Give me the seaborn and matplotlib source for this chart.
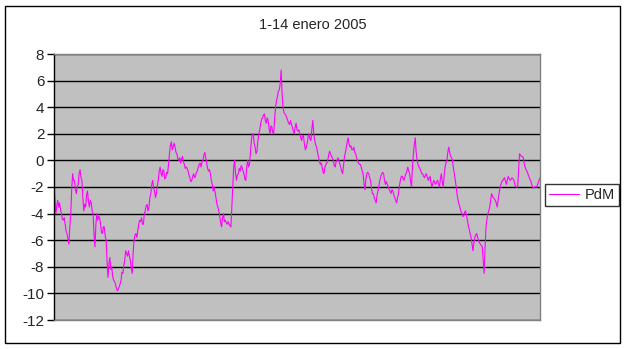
import pandas as pd
import seaborn as sns
import matplotlib.pyplot as plt
from matplotlib.patches import Rectangle

title = "1-14 enero 2005"
series_name = "PdM"
y_ticks = [-12, -10, -8, -6, -4, -2, 0, 2, 4, 6, 8]

# values, left to right
pdm = [
    -1.8, -2.9, -4.0, -3.4, -3.0, -3.5, -3.2, -3.7, -4.0, -4.4, -4.5, -4.3, -4.8, -5.3, -5.5, -5.9, -6.3, -5.0, -4.0, -2.2,
    -1.0, -1.5, -1.5, -2.2, -2.5, -2.0, -1.8, -1.0, -0.7, -1.3, -1.5, -2.8, -3.8, -3.3, -3.5, -2.6, -2.3, -3.1, -3.5, -3.0,
    -3.2, -3.8, -4.0, -5.6, -6.5, -4.8, -4.0, -4.5, -4.2, -4.3, -4.8, -5.4, -5.5, -5.0, -5.0, -5.7, -6.0, -7.6, -8.8, -7.8,
    -7.3, -8.2, -8.0, -8.7, -9.0, -9.1, -9.3, -9.6, -9.8, -9.7, -9.5, -9.3, -9.0, -8.4, -8.5, -7.9, -7.5, -6.8, -7.0, -7.2,
    -6.8, -7.2, -7.5, -8.1, -8.5, -7.0, -6.0, -5.6, -5.5, -5.8, -5.3, -4.8, -4.5, -4.6, -4.3, -4.8, -4.8, -4.0, -3.8, -3.4,
    -3.3, -3.8, -3.5, -2.8, -2.5, -1.8, -1.5, -2.1, -2.3, -2.8, -2.5, -1.9, -1.5, -0.8, -0.5, -1.0, -1.2, -0.7, -0.8, -1.4,
    -1.3, -0.9, -1.0, -0.3, 0.5, 1.1, 1.4, 0.8, 1.0, 1.3, 1.0, 0.6, 0.5, 0.1, 0.0, 0.2, -0.2, 0.1, 0.3, -0.1,
    -0.3, -0.6, -0.5, -0.6, -0.8, -1.1, -1.3, -1.6, -1.5, -1.2, -1.0, -1.3, -1.2, -0.9, -0.8, -0.5, -0.3, -0.2, -0.5, -0.1,
    0.0, 0.4, 0.6, 0.2, -0.2, -0.6, -0.8, -0.7, -1.0, -1.5, -1.8, -2.3, -2.0, -2.4, -2.8, -3.3, -3.5, -3.8, -4.2, -4.7,
    -5.0, -4.3, -4.0, -4.6, -4.5, -4.7, -4.8, -4.6, -4.8, -4.9, -5.0, -3.5, -2.0, -0.5, 0.0, -1.0, -1.5, -1.1, -1.0, -0.6,
    -0.8, -0.4, -0.5, -0.8, -1.0, -1.4, -1.5, -0.5, 0.0, -0.5, -0.3, 0.6, 1.5, 2.0, 2.0, 1.3, 1.0, 0.5, 0.7, 1.5,
    2.0, 2.3, 2.8, 3.1, 3.2, 3.4, 3.5, 3.0, 2.8, 3.2, 3.0, 2.4, 2.0, 2.6, 2.5, 2.1, 2.0, 3.2, 4.0, 4.5,
    4.8, 5.2, 5.3, 5.8, 6.8, 5.0, 4.0, 3.6, 3.5, 3.4, 3.2, 3.0, 2.8, 2.7, 3.0, 2.7, 2.5, 2.2, 2.0, 2.5,
    2.8, 2.3, 2.2, 2.3, 2.0, 1.7, 1.5, 1.9, 1.8, 1.2, 0.8, 1.0, 1.3, 1.8, 2.0, 1.6, 1.5, 2.4, 3.0, 2.0,
    1.5, 1.2, 1.0, 0.6, 0.3, 0.0, -0.3, -0.2, -0.5, -0.9, -1.0, -0.5, -0.3, -0.2, 0.0, 0.4, 0.7, 0.5, 0.3, 0.2,
    0.0, -0.4, -0.5, -0.1, 0.0, 0.2, 0.0, -0.3, -0.5, -0.8, -1.0, -0.4, 0.3, 0.6, 1.0, 1.4, 1.7, 1.2, 1.0, 1.1,
    0.8, 0.8, 1.0, 0.6, 0.5, 0.2, 0.0, -0.2, -0.3, -0.3, -0.5, -0.8, -1.0, -1.8, -2.2, -1.4, -1.0, -0.9, -1.0, -1.3,
    -1.5, -2.1, -2.5, -2.5, -2.8, -3.0, -3.2, -2.6, -2.3, -1.9, -1.5, -1.2, -1.0, -0.9, -1.0, -1.5, -1.8, -1.6, -1.8, -2.0,
    -2.2, -2.3, -2.5, -2.2, -2.3, -2.6, -2.8, -3.0, -3.2, -2.8, -2.5, -1.9, -1.5, -1.2, -1.2, -1.4, -1.5, -1.2, -1.0, -0.8,
    -0.5, -0.8, -1.0, -1.6, -2.0, -0.5, 0.5, 1.2, 1.7, 0.6, 0.0, -0.3, -0.5, -0.6, -0.8, -1.0, -1.0, -1.2, -1.3, -1.1,
    -1.0, -1.3, -1.5, -1.3, -1.2, -1.7, -2.0, -1.7, -1.5, -1.7, -1.8, -1.6, -1.5, -1.8, -2.0, -1.4, -1.0, -1.6, -2.0, -1.2,
    -0.5, -0.2, 0.0, 0.6, 1.0, 0.6, 0.3, 0.2, 0.0, -0.6, -1.0, -1.5, -2.0, -2.6, -3.0, -3.3, -3.5, -3.8, -4.0, -4.2,
    -4.2, -3.9, -3.8, -4.1, -4.5, -4.9, -5.2, -5.5, -5.8, -6.3, -6.8, -6.2, -5.8, -5.6, -5.5, -5.8, -6.0, -6.2, -6.3, -6.4,
    -6.5, -7.5, -8.5, -6.5, -5.0, -4.4, -4.0, -3.8, -3.5, -3.0, -2.5, -2.7, -2.8, -2.9, -3.0, -3.2, -3.5, -3.0, -2.5, -2.1,
    -1.8, -1.6, -1.5, -1.4, -1.3, -1.6, -1.8, -1.4, -1.2, -1.4, -1.5, -1.4, -1.3, -1.4, -1.5, -1.8, -2.0, -2.0, -2.0, -0.8,
    0.5, 0.4, 0.3, 0.3, 0.2, -0.2, -0.5, -0.7, -0.8, -1.0, -1.2, -1.4, -1.5, -1.8, -2.0, -2.1, -2.0, -2.0, -2.0, -1.9,
    -1.7, -1.5, -1.3,
]

df = pd.DataFrame({"t": range(len(pdm)), "value": pdm, "serie": series_name})

sns.set_style("white")
plt.rcParams["font.family"] = ["Liberation Sans", "DejaVu Sans"]

fig = plt.figure(figsize=(6.26, 3.49), dpi=100)
fig.patch.set_facecolor("white")
# outer chart border like the Excel chart area
fig.patches.append(Rectangle((5 / 626, 6 / 349), 615 / 626, 337 / 349,
                             transform=fig.transFigure, fill=False,
                             edgecolor="black", linewidth=1.0))

ax = fig.add_axes([54 / 626, 1 - 320 / 349, 486 / 626, 266 / 349])
ax.set_facecolor("#C0C0C0")

sns.lineplot(data=df, x="t", y="value", hue="serie", palette=["#FF00FF"],
             linewidth=0.8, ax=ax)

ax.set_xlim(0, len(pdm) - 1)
ax.set_ylim(-12, 8)
ax.set_yticks(y_ticks)
ax.set_yticklabels([str(v) for v in y_ticks], fontsize=11)
ax.set_xticks([])
ax.set_xlabel("")
ax.set_ylabel("")
ax.yaxis.grid(True, color="black", linewidth=1.0)
ax.set_axisbelow(True)
ax.tick_params(axis="y", direction="out", length=5, width=1, color="black", pad=2, left=True)

for side in ["top", "right", "bottom"]:
    ax.spines[side].set_color("#808080")
    ax.spines[side].set_linewidth(1.0)
ax.spines["left"].set_color("black")
ax.spines["left"].set_linewidth(1.0)

fig.text(313 / 626, 1 - 25 / 349, title, ha="center", va="center", fontsize=10.5)

handles, labels = ax.get_legend_handles_labels()
leg = ax.legend(handles, labels, loc="center left", bbox_to_anchor=(545 / 626, 1 - 195 / 349),
                bbox_transform=fig.transFigure, frameon=True, fancybox=False,
                fontsize=10.5, handlelength=2.0, borderpad=0.3, handletextpad=0.4,
                borderaxespad=0)
leg.get_frame().set_edgecolor("black")
leg.get_frame().set_linewidth(1.0)
leg.get_frame().set_facecolor("white")

fig.savefig("out.png", dpi=100)
